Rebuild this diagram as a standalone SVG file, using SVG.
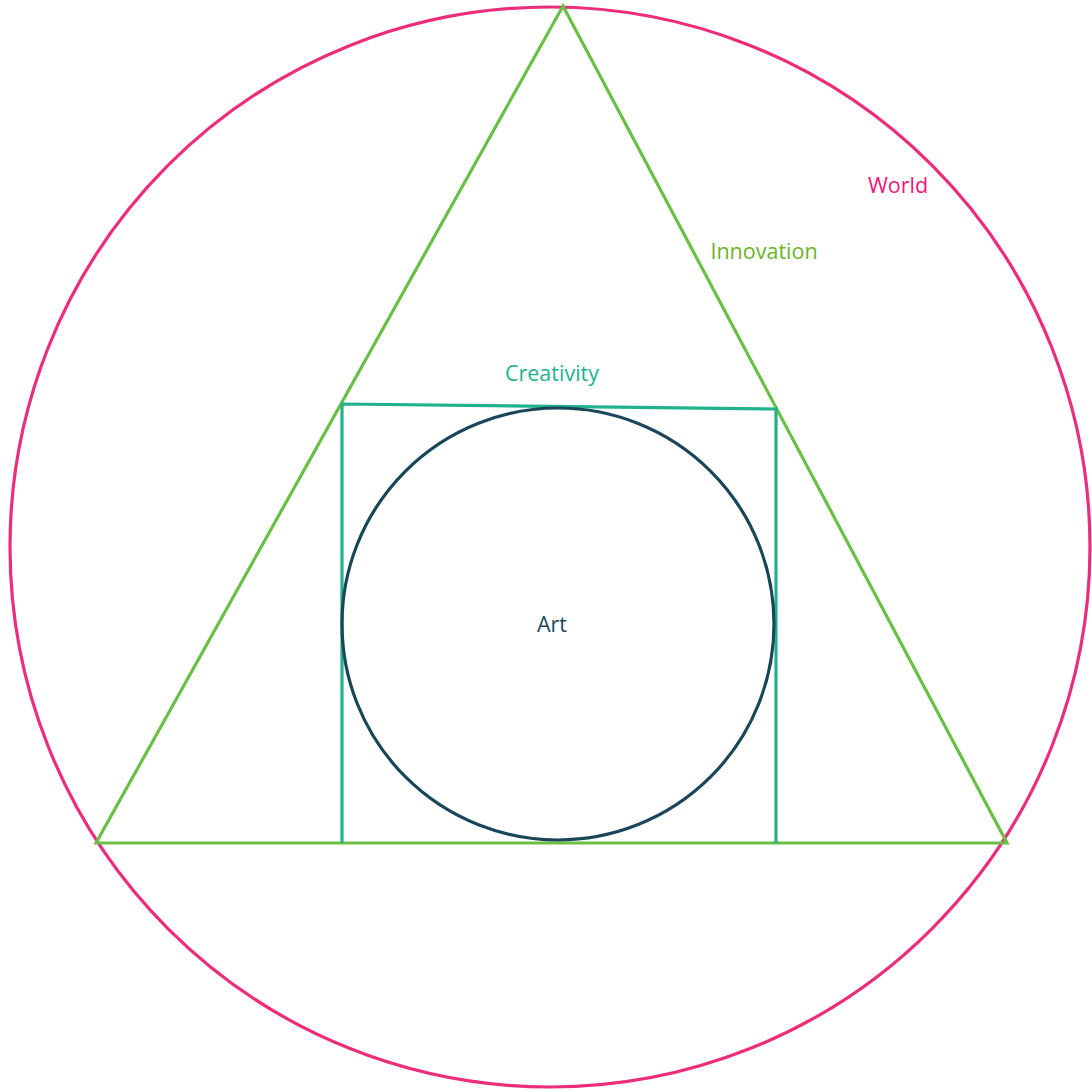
<svg xmlns="http://www.w3.org/2000/svg" width="1092" height="1092" viewBox="0 0 1092 1092">
<style>
text{font-family:"Open Sans","Noto Sans",sans-serif;font-size:21.5px;text-anchor:middle;dominant-baseline:central}
.s{fill:none;stroke-width:3.2;stroke-linejoin:miter}
</style>
<rect width="1092" height="1092" fill="#fff"/>
<g id="world">
<circle class="s" cx="550" cy="547" r="540" stroke="#ec2d7b"/>
<text x="898" y="184" fill="#f0177a">World</text>
</g>
<g id="innovation">
<polygon class="s" points="563,6 1007,843 96,843" stroke="#6abf45"/>
<text x="764" y="250" fill="#6ab42c">Innovation</text>
</g>
<g id="creativity">
<polyline class="s" points="342,843 342,404 776,409 776,843" stroke="#20b28c"/>
<text x="552" y="372" fill="#1db38e">Creativity</text>
</g>
<g id="art">
<circle class="s" cx="558" cy="624" r="216" stroke="#1a465a"/>
<text x="552" y="623" fill="#1d4a5f">Art</text>
</g>
<g id="connectors"></g>
</svg>
